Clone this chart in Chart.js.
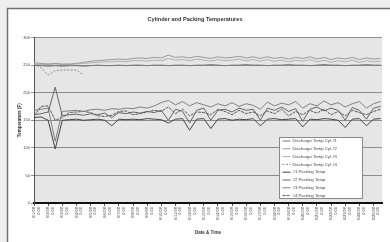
<!DOCTYPE html>
<html><head><meta charset="utf-8">
<script src="https://cdn.jsdelivr.net/npm/chart.js@4.4.1/dist/chart.umd.min.js"></script>
<style>html,body{margin:0;padding:0;background:#efefef;overflow:hidden}</style>
</head><body>
<canvas id="c" width="390" height="242"></canvas>
<script>
// ---- data ----
const tickDates = ['6/1/08','6/2/08','6/3/08','6/4/08','6/5/08','6/6/08','6/7/08','6/8/08','6/9/08','6/10/08',
  '6/11/08','6/12/08','6/13/08','6/14/08','6/15/08','6/16/08','6/17/08','6/18/08','6/19/08','6/20/08',
  '6/21/08','6/22/08','6/23/08','6/24/08','6/25/08'];
const tickTimes = ['0:00'];
const pointsPerTick = 2;
const seriesNames = ['Discharge Temp Cyl #1','Discharge Temp Cyl #2','Discharge Temp Cyl #3','Discharge Temp Cyl #4',
  '#1 Packing Temp','#2 Packing Temp','#3 Packing Temp','#4 Packing Temp'];

const dischargeCyl1 = [250,249,248,249,248,249,249,248,249,250,249,249,250,249,250,250,249,250,250,249,250,250,249,250,250,251,250,249,250,250,251,250,250,249,250,250,251,250,250,249,250,251,250,250,249,250,250,251,250,250];
const dischargeCyl2 = [254,253,252,253,252,252,253,255,257,258,259,260,261,260,262,263,262,264,263,268,264,265,263,266,264,262,265,263,264,266,263,265,262,265,262,264,261,264,262,265,261,264,260,263,261,264,260,263,261,262];
const dischargeCyl3 = [252,251,251,252,251,251,252,253,254,255,256,256,257,256,258,258,257,259,258,262,259,260,258,261,259,257,260,258,259,261,258,260,257,260,257,259,256,259,257,260,256,259,255,258,256,259,255,258,256,257];
const dischargeCyl4 = [252,245,232,240,241,241,241,232,null,null,null,null,null,null,null,null,null,null,null,null,null,null,null,null,null,null,null,null,null,null,null,null,null,null,null,null,null,null,null,null,null,null,null,null,null,null,null,null,null,null];
const packing1 = [155,156,150,98,150,151,152,150,151,152,150,140,152,151,152,151,153,152,151,145,152,153,132,152,153,135,152,153,150,152,151,153,140,152,153,151,152,153,138,152,151,153,152,150,137,152,153,140,152,153];
const packing2 = [160,162,165,210,158,160,161,159,162,160,163,155,164,162,165,163,166,164,168,150,170,166,145,168,172,150,168,170,165,172,168,170,150,172,168,174,166,171,148,170,174,167,172,168,150,173,168,152,172,175];
const packing3 = [168,170,172,112,166,167,168,166,169,170,168,171,170,172,171,174,172,176,182,186,178,184,176,182,178,174,180,176,182,175,180,177,170,183,176,181,178,184,172,180,176,185,178,182,174,180,184,172,180,184];
const packing4 = [158,175,176,150,155,164,165,166,164,158,157,159,166,167,160,162,165,168,166,174,162,170,158,165,164,160,170,166,160,168,162,165,158,167,162,170,158,166,160,168,163,170,160,166,158,168,164,160,166,170];
const yTicks = [0,50,100,150,200,250,300];

const allSeries = [dischargeCyl1,dischargeCyl2,dischargeCyl3,dischargeCyl4,packing1,packing2,packing3,packing4];
const colors = ['#7a7a7a','#9a9a9a','#b0b0b0','#8a8a8a','#444444','#666666','#808080','#555555'];
const dashes = [[],[],[],[2,1.5],[],[],[],[3,1]];

const datasets = allSeries.map((vals,k)=>({
  label: seriesNames[k],
  data: vals.map((v,i)=>({x:i/pointsPerTick, y:v})),
  borderColor: colors[k], borderWidth: 1, borderDash: dashes[k],
  pointRadius: 0, tension: 0, fill: false, spanGaps: false
}));

const frame = {
  id:'frame',
  beforeDraw(chart){
    const ctx = chart.ctx, a = chart.chartArea;
    ctx.save();
    ctx.fillStyle = '#efefef'; ctx.fillRect(0,0,390,242);
    ctx.fillStyle = '#ffffff'; ctx.fillRect(7,8,383,234);
    ctx.strokeStyle = '#707070'; ctx.lineWidth = 1.5;
    ctx.beginPath(); ctx.moveTo(7.5,242); ctx.lineTo(7.5,8.5); ctx.lineTo(390,8.5); ctx.stroke();
    ctx.fillStyle = '#e6e6e6'; ctx.fillRect(a.left,a.top,a.right-a.left,a.bottom-a.top);
    ctx.restore();
  }
};
const boxLegend = {
  id:'boxLegend',
  afterDraw(chart){
    const ctx = chart.ctx;
    const x0 = 279.5, y0 = 137.5, w = 83, h = 61;
    ctx.save();
    ctx.fillStyle = '#ffffff'; ctx.fillRect(x0,y0,w,h);
    ctx.strokeStyle = '#8a8a8a'; ctx.lineWidth = 1; ctx.strokeRect(x0,y0,w,h);
    ctx.font = '4.3px "Liberation Sans", Arial, sans-serif';
    ctx.textBaseline = 'middle'; ctx.textAlign = 'left';
    chart.data.datasets.forEach((ds,k)=>{
      const yy = y0 + 3.5 + k*7.8;
      ctx.strokeStyle = ds.borderColor; ctx.setLineDash(ds.borderDash||[]);
      ctx.beginPath(); ctx.moveTo(x0+3, yy); ctx.lineTo(x0+11, yy); ctx.stroke();
      ctx.setLineDash([]);
      ctx.fillStyle = '#444'; ctx.fillText(ds.label, x0+13, yy);
    });
    ctx.restore();
  }
};

new Chart(document.getElementById('c'), {
  type:'line',
  data:{datasets},
  plugins:[frame, boxLegend],
  options:{
    responsive:false, devicePixelRatio:1, animation:false,
    layout:{padding:{left:8,right:8,top:0,bottom:0}},
    plugins:{
      legend:{display:false}, tooltip:{enabled:false},
      title:{display:true, text:'Cylinder and Packing Temperatures', color:'#333',
        font:{family:'"Liberation Sans", Arial, sans-serif', size:5.6, weight:'bold'},
        padding:{top:16,bottom:14.8}}
    },
    scales:{
      x:{type:'linear', min:0, max:24.6,
        afterFit(s){ s.height = 39; },
        ticks:{stepSize:1, autoSkip:false, includeBounds:false, minRotation:90, maxRotation:90, padding:1,
          color:'#444', font:{family:'"Liberation Sans", Arial, sans-serif', size:4},
          callback:(v)=> Number.isInteger(v) && tickDates[v] ? [tickDates[v], tickTimes[0]] : ''},
        grid:{drawOnChartArea:false, tickLength:3, color:'#555'},
        border:{color:'#111', width:2},
        title:{display:true, text:'Date & Time', color:'#333',
          font:{family:'"Liberation Sans", Arial, sans-serif', size:4.5, weight:'bold'}, padding:{top:0,bottom:6.3}}
      },
      y:{min:0, max:300,
        afterFit(s){ s.width = 26; },
        afterBuildTicks(s){ s.ticks = yTicks.map(v=>({value:v})); },
        ticks:{padding:1, color:'#444', font:{family:'"Liberation Sans", Arial, sans-serif', size:4},
          callback:(v)=> String(v)},
        grid:{color:'#8c8c8c', lineWidth:1, tickLength:3},
        border:{color:'#555', width:1},
        title:{display:true, text:'Temperature (F)', color:'#333',
          font:{family:'"Liberation Sans", Arial, sans-serif', size:4.5, weight:'bold'}, padding:{top:9.3,bottom:0}}
      }
    }
  }
});
</script>
</body></html>
